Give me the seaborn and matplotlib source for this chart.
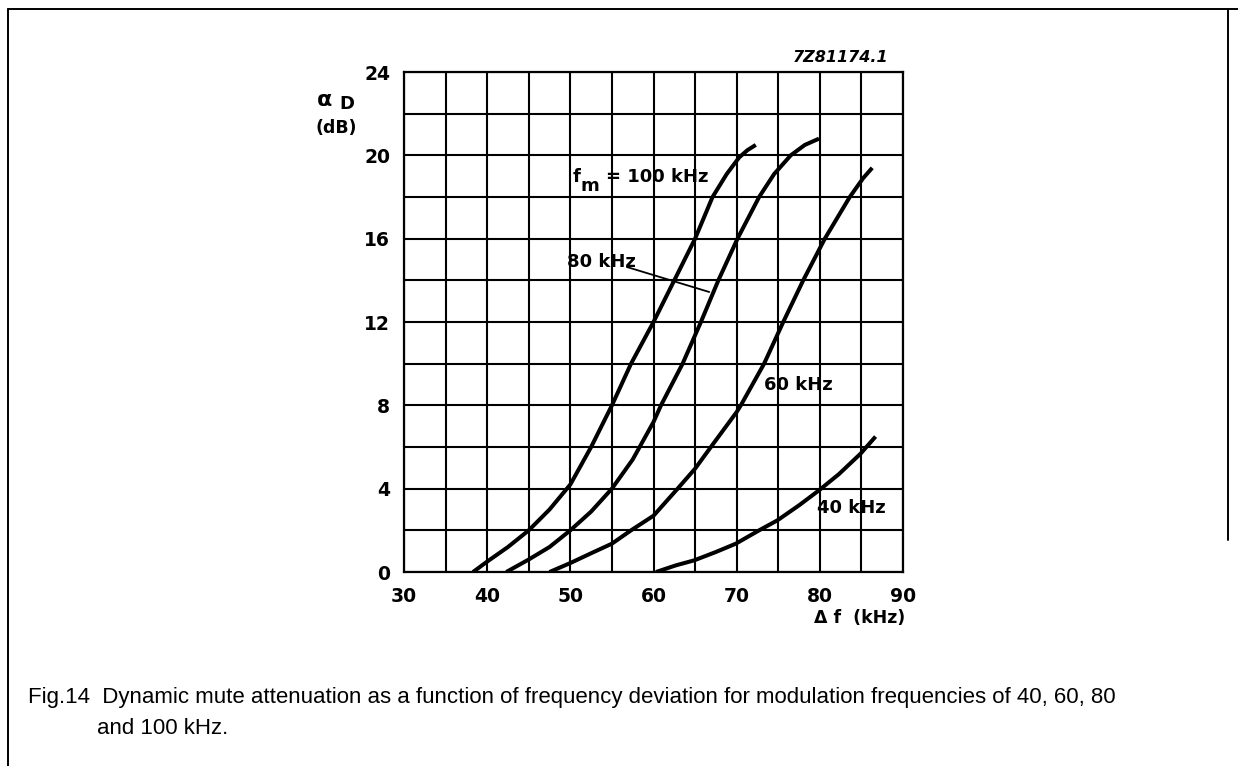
import matplotlib
matplotlib.use("Agg")
import matplotlib.pyplot as plt
import seaborn as sns
import pandas as pd
from matplotlib.lines import Line2D

# ---- data ----
fm_labels = ["100 kHz", "80 kHz", "60 kHz", "40 kHz"]

f100_x = [38.3, 40.0, 42.5, 45.0, 47.5, 50.0, 52.5, 55.0, 57.3, 60.0, 62.5, 65.0, 67.1, 68.8, 70.3, 71.3, 72.3]
f100_y = [0.0, 0.5, 1.2, 2.0, 3.0, 4.2, 6.0, 8.0, 10.0, 12.0, 14.0, 16.0, 18.0, 19.1, 19.9, 20.25, 20.5]

f80_x = [42.3, 45.0, 47.5, 50.0, 52.5, 55.0, 57.5, 60.0, 60.9, 63.5, 65.7, 67.8, 70.1, 72.7, 74.5, 76.5, 78.2, 79.9]
f80_y = [0.0, 0.6, 1.2, 2.0, 2.9, 4.0, 5.4, 7.2, 8.0, 10.0, 12.0, 14.0, 16.0, 18.0, 19.1, 20.0, 20.5, 20.8]

f60_x = [47.5, 50.0, 52.5, 55.0, 57.3, 60.0, 62.9, 65.0, 66.9, 70.0, 70.5, 73.3, 75.6, 78.0, 80.6, 83.6, 85.2, 86.3]
f60_y = [0.0, 0.43, 0.9, 1.36, 2.0, 2.7, 4.0, 4.96, 6.0, 7.68, 8.0, 10.0, 12.0, 14.0, 16.0, 18.0, 18.9, 19.4]

f40_x = [60.3, 62.7, 64.9, 67.5, 69.9, 72.7, 74.9, 77.5, 79.9, 82.3, 84.9, 86.7]
f40_y = [0.0, 0.32, 0.56, 0.96, 1.36, 2.0, 2.48, 3.2, 3.92, 4.7, 5.68, 6.5]

x_ticks = [30, 40, 50, 60, 70, 80, 90]
y_ticks = [0, 4, 8, 12, 16, 20, 24]

caption1 = "Fig.14  Dynamic mute attenuation as a function of frequency deviation for modulation frequencies of 40, 60, 80"
caption2 = "and 100 kHz."

# ---- build long-form table ----
frames = []
for lab, xs, ys in zip(fm_labels, [f100_x, f80_x, f60_x, f40_x], [f100_y, f80_y, f60_y, f40_y]):
    frames.append(pd.DataFrame({"df": xs, "att": ys, "fm": lab}))
df = pd.concat(frames, ignore_index=True)

sns.set_style("white")
plt.rcParams['font.family'] = ['DejaVu Sans']
plt.rcParams['text.color'] = 'black'
plt.rcParams['xtick.color'] = 'black'
plt.rcParams['ytick.color'] = 'black'
plt.rcParams['axes.labelcolor'] = 'black'

W, H = 1238, 766
fig = plt.figure(figsize=(W / 100, H / 100), dpi=100)
ax = fig.add_axes([404 / W, (H - 572) / H, 499 / W, 500 / H])

sns.lineplot(data=df, x="df", y="att", hue="fm", palette=["black"] * 4,
             estimator=None, sort=False, legend=False, linewidth=2.9, ax=ax)
for ln in ax.get_lines():
    ln.set_solid_capstyle("butt")
    ln.set_solid_joinstyle("round")
    ln.set_zorder(5)

ax.set_xlim(30, 90)
ax.set_ylim(0, 24)
ax.set_xticks(x_ticks)
ax.set_xticks([35, 45, 55, 65, 75, 85], minor=True)
ax.set_yticks(y_ticks)
ax.set_yticks([2, 6, 10, 14, 18, 22], minor=True)
ax.grid(which="both", color="black", linewidth=1.5)
ax.set_axisbelow(True)
ax.tick_params(which="both", length=0, colors="black")
ax.tick_params(axis="y", pad=10)
ax.tick_params(axis="x", pad=11)
for lbl in ax.get_xticklabels() + ax.get_yticklabels():
    lbl.set_fontweight("bold")
    lbl.set_fontsize(13.5)
    lbl.set_color("black")
for sp in ax.spines.values():
    sp.set_visible(True)
    sp.set_color("black")
    sp.set_linewidth(1.6)
ax.set_xlabel("")
ax.set_ylabel("")

tk = dict(fontsize=13, fontweight="bold", color="black")
# curve labels
ax.text(50.25, 18.95, "f", ha="left", va="center", **tk)
ax.text(51.2, 18.55, "m", ha="left", va="center", **tk)
ax.text(54.3, 18.95, "= 100 kHz", ha="left", va="center", **tk)
ax.text(49.6, 14.9, "80 kHz", ha="left", va="center", **tk)
ax.plot([56.8, 66.7], [14.64, 13.44], color="black", lw=1.3)
ax.text(73.3, 8.96, "60 kHz", ha="left", va="center", **tk)
ax.text(79.6, 3.05, "40 kHz", ha="left", va="center", **tk)

# axis labels / code
fig.text(317 / W, 1 - 100 / H, "α", ha="left", va="center", fontsize=16, fontweight="bold")
fig.text(339 / W, 1 - 104 / H, "D", ha="left", va="center", fontsize=13, fontweight="bold")
fig.text(336 / W, 1 - 128 / H, "(dB)", ha="center", va="center", fontsize=12.5, fontweight="bold")
fig.text(905 / W, 1 - 618 / H, "Δ f  (kHz)", ha="right", va="center", fontsize=12.5, fontweight="bold")
fig.text(888 / W, 1 - 58 / H, "7Z81174.1", ha="right", va="center", fontsize=11.5,
         fontstyle="italic", fontweight="bold")

# caption
fig.text(28 / W, 1 - 697 / H, caption1, ha="left", va="center", fontsize=16,
         family=["Liberation Sans", "DejaVu Sans"], color="black")
fig.text(97 / W, 1 - 728 / H, caption2, ha="left", va="center", fontsize=16,
         family=["Liberation Sans", "DejaVu Sans"], color="black")

# outer frame
fl = dict(color="black", lw=1.4, transform=fig.transFigure)
fig.add_artist(Line2D([8 / W, 1.0], [1 - 9 / H, 1 - 9 / H], **fl))
fig.add_artist(Line2D([8 / W, 8 / W], [1 - 9 / H, 0.0], **fl))
fig.add_artist(Line2D([1228 / W, 1228 / W], [1 - 9 / H, 1 - 540 / H], **fl))

fig.savefig("out.png", dpi=100)
